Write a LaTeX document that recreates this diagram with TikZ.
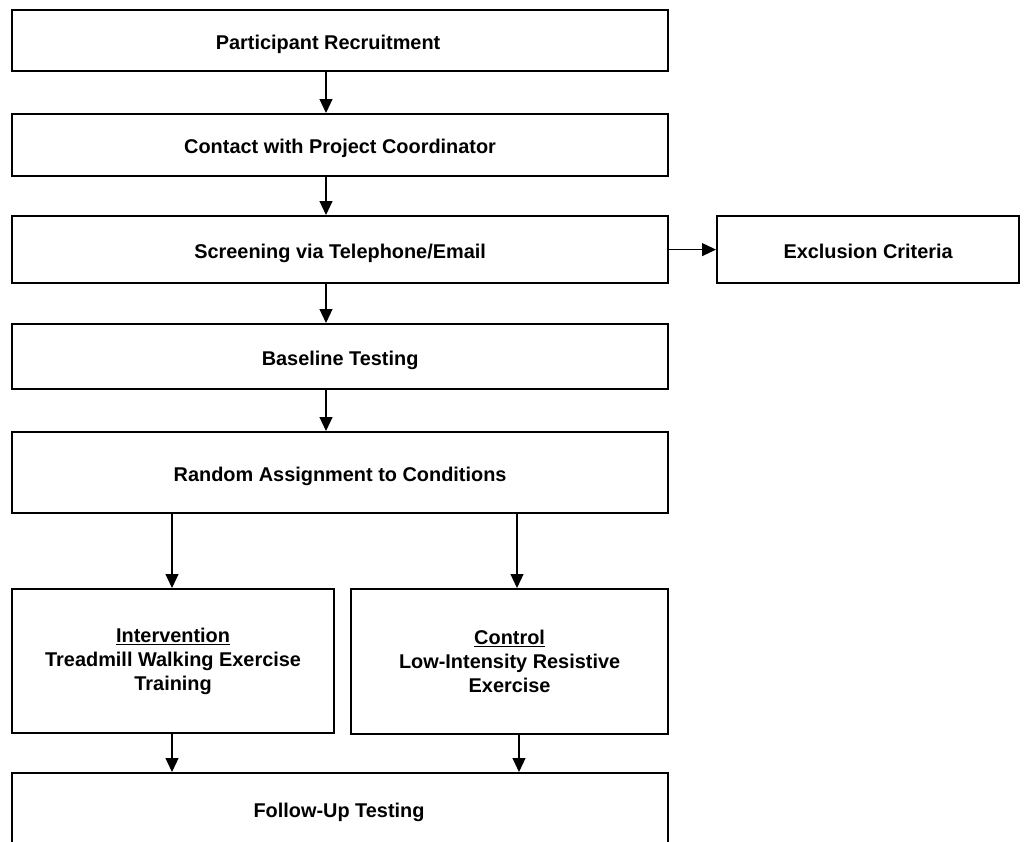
\documentclass[tikz,border=0pt]{standalone}
\usepackage{fontspec}
\setmainfont{Liberation Sans}
\usetikzlibrary{arrows.meta,calc}
\tikzset{
  box/.style={draw=black, line width=2.2pt, rectangle, anchor=north west, inner sep=0pt,
    align=center, font=\fontsize{19.9}{24}\selectfont\bfseries},
  oneline/.style={text height=17pt, text depth=0pt},
  arr/.style={draw=black, line width=1.1pt, -{Triangle[width=13pt,length=14pt]}}
}
\begin{document}
\begin{tikzpicture}[x=1pt,y=-1pt]
\useasboundingbox (0,0) rectangle (1025,841);
\clip (0,0) rectangle (1025,841);
\node[box, oneline, minimum width=656pt, minimum height=61pt] (rec) at (11,9) {\hspace*{-24pt}Participant Recruitment};
\node[box, oneline, minimum width=656pt, minimum height=62pt] (con) at (11,113) {Contact with Project Coordinator};
\node[box, oneline, minimum width=656pt, minimum height=67pt] (scr) at (11,215) {Screening via Telephone/Email};
\node[box, oneline, minimum width=302pt, minimum height=67pt] (exc) at (716,215) {Exclusion Criteria};
\node[box, oneline, minimum width=656pt, minimum height=65pt] (bas) at (11,323) {Baseline Testing};
\node[box, oneline, minimum width=656pt, minimum height=81pt] (ran) at (11,431) {Random Assignment to Conditions};
\node[box, minimum width=322pt, minimum height=144pt] (int) at (11,588) {\underline{Intervention}\\Treadmill Walking Exercise\\Training};
\node[box, minimum width=317pt, minimum height=145pt] (ctl) at (350,588) {\underline{Control}\\Low-Intensity Resistive\\Exercise};
\node[box, minimum width=656pt, minimum height=80pt] (fol) at (11,772) {};
\node[font=\fontsize{19.9}{24}\selectfont\bfseries, text height=17pt, text depth=0pt, inner sep=0pt] (foltxt) at (339,809) {Follow-Up Testing};
\coordinate (mx) at (326,0);
\coordinate (ix) at (172,0);
\coordinate (cx) at (517,0);
\coordinate (cx2) at (519,0);
\draw[arr] (rec.south -| mx) -- (con.north -| mx);
\draw[arr] (con.south -| mx) -- (scr.north -| mx);
\draw[arr] (scr.south -| mx) -- (bas.north -| mx);
\draw[arr] (bas.south -| mx) -- (ran.north -| mx);
\draw[arr] (scr.east) -- (exc.west);
\draw[arr] (ran.south -| ix) -- (int.north -| ix);
\draw[arr] (ran.south -| cx) -- (ctl.north -| cx);
\draw[arr] (int.south -| ix) -- (fol.north -| ix);
\draw[arr] (ctl.south -| cx2) -- (fol.north -| cx2);
\end{tikzpicture}
\end{document}
